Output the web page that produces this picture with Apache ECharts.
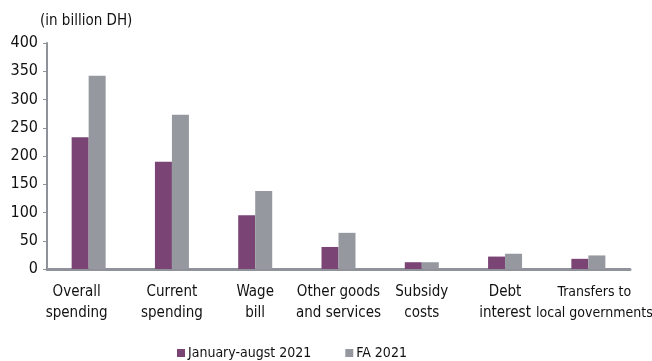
<!DOCTYPE html>
<html><head><meta charset="utf-8">
<script src="https://cdn.jsdelivr.net/npm/echarts@6/dist/echarts.min.js"></script>
<style>html,body{margin:0;padding:0;background:#fff}#c{width:652px;height:361px}</style>
</head><body><div id="c"></div>
<script>
const categories = ['Overall\nspending','Current\nspending','Wage\nbill','Other goods\nand services','Subsidy\ncosts','Debt\ninterest','Transfers to\nlocal governments'];
const janAug2021 = [233, 190, 95, 39, 12, 22, 18];
const fa2021 = [342, 273, 138, 64, 12, 27, 24];
const yTicks = [0, 50, 100, 150, 200, 250, 300, 350, 400];
const seriesNames = ['January-augst 2021', 'FA 2021'];
const unitLabel = '(in billion DH)';

const FONT = "'Liberation Sans Narrow','DejaVu Sans Condensed','Open Sans',sans-serif";
const chart = echarts.init(document.getElementById('c'), null, {renderer:'canvas'});
const catData = categories.map((c, i) => {
  const o = {value: c};
  if (i === 0) o.textStyle = {padding: [0, 24, 0, 0]};
  if (i === categories.length - 1) o.textStyle = {padding: [0, 0, 0, 12], fontSize: 14};
  return o;
});
chart.setOption({
  animation: false,
  textStyle: {fontFamily: FONT},
  grid: {left: 47, right: 22, top: 43, bottom: 92, containLabel: false, outerBoundsMode: 'none'},
  legend: {
    data: seriesNames, left: 172, top: 341, icon: 'rect', itemWidth: 8, itemHeight: 8,
    itemGap: 34, textStyle: {fontFamily: FONT, fontSize: 14, color: '#111', padding: [0,0,0,-2]}
  },
  graphic: [{type: 'text', left: 40, top: 14, style: {text: unitLabel, font: "15px " + FONT, fill: '#111'}}],
  xAxis: {
    type: 'category', data: catData,
    axisLine: {lineStyle: {color: '#8f9399', width: 3}},
    axisTick: {show: false},
    axisLabel: {interval: 0, fontFamily: FONT, fontSize: 15, color: '#111', lineHeight: 21, margin: 13}
  },
  yAxis: {
    type: 'value', min: yTicks[0], max: yTicks[yTicks.length - 1], interval: 50,
    axisLine: {show: true, lineStyle: {color: '#8f9399', width: 2}},
    axisTick: {show: true, length: 4, lineStyle: {color: '#8f9399', width: 1}},
    splitLine: {show: false},
    axisLabel: {fontFamily: FONT, fontSize: 16, color: '#111', margin: 9}
  },
  series: [
    {name: seriesNames[0], type: 'bar', data: janAug2021, barWidth: 17, barGap: '0%', itemStyle: {color: '#7a4574'}},
    {name: seriesNames[1], type: 'bar', data: fa2021, barWidth: 17, barGap: '0%', itemStyle: {color: '#95989f'}}
  ]
});
</script></body></html>
